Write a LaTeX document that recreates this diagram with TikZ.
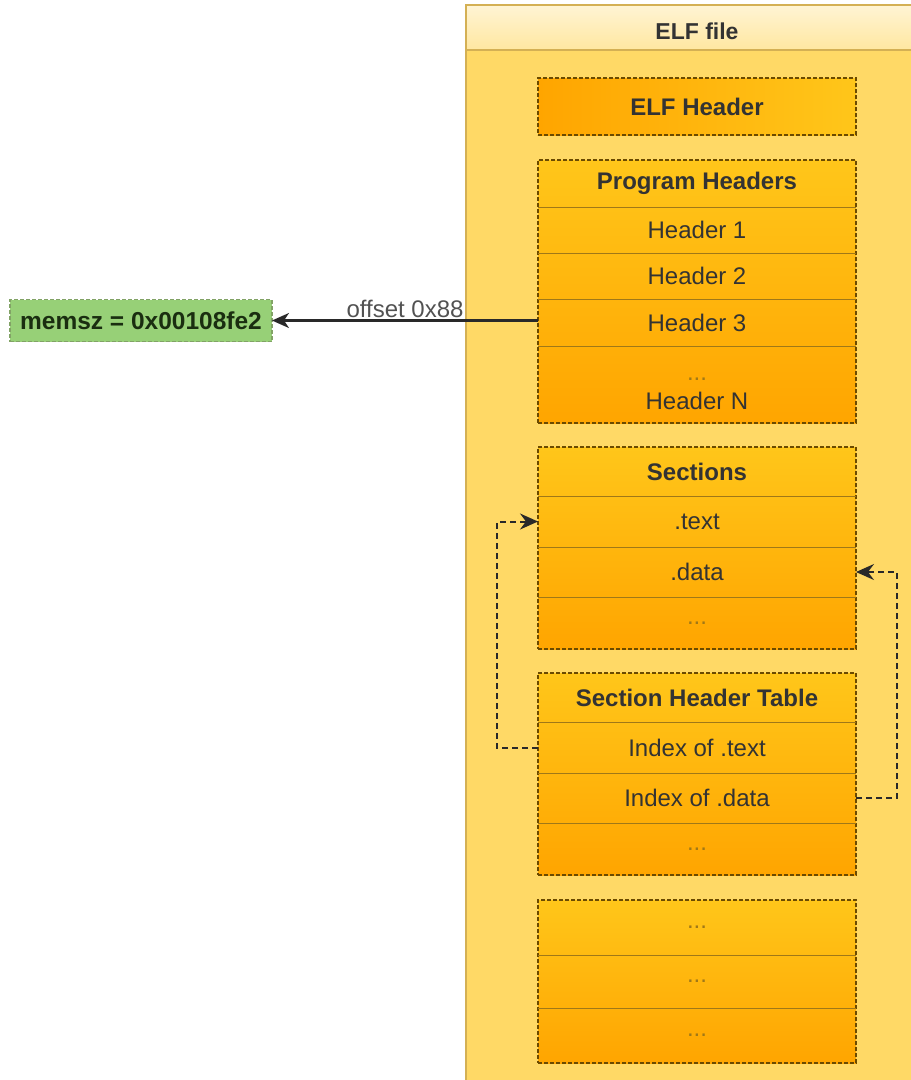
\documentclass[tikz,border=0pt]{standalone}
\usepackage{fontspec}
\setmainfont{Liberation Sans}
\usetikzlibrary{positioning, fit, backgrounds, arrows.meta}
\definecolor{elfback}{HTML}{FFD966}
\definecolor{elftitle}{HTML}{FFE7A0}
\definecolor{elfline}{HTML}{D4B054}
\definecolor{rowtop}{HTML}{FFC61A}
\definecolor{rowbot}{HTML}{FFA500}
\definecolor{rowline}{HTML}{A07818}
\definecolor{grpline}{HTML}{6B4A00}
\definecolor{memfill}{HTML}{97D077}
\definecolor{memline}{HTML}{82A366}
\definecolor{memtext}{HTML}{1A2E10}
\definecolor{txt}{HTML}{333333}

\begin{document}
\begin{tikzpicture}[x=1pt, y=-1pt,
    font=\fontsize{24}{27}\selectfont,
    row/.style={rectangle, minimum width=318pt, inner sep=0pt, outer sep=0pt, align=center, text=txt},
    rowtitle/.style={row, font=\fontsize{24}{27}\selectfont\bfseries},
    dots/.style={row, text=rowline},
    group/.style={rectangle, draw=grpline, dash pattern=on 4pt off 2pt, line width=1.8pt, inner sep=0pt, top color=rowtop, bottom color=rowbot},
    sep/.style={draw=rowline, line width=1pt},
    valbox/.style={rectangle, minimum width=262pt, minimum height=42pt, inner sep=0pt, outer sep=0pt, fill=memfill, draw=memline, dash pattern=on 4pt off 2pt, line width=1.4pt, text=memtext, font=\fontsize{24.5}{27}\selectfont\bfseries},
    arrow/.style={-{Stealth[length=17pt, width=15pt, inset=5pt]}, line width=2.2pt, draw=txt!80!black},
    dlink/.style={-{Stealth[length=18pt, width=16pt, inset=6pt]}, line width=2pt, draw=txt!80!black, dash pattern=on 6pt off 4pt}
]
    \useasboundingbox (0,0) rectangle (911,1080);

    % ELF file container
    \begin{pgfonlayer}{background}
        \fill[elfback] (466,5) rectangle (930,1090);
        \shade[top color=elftitle!45!white, bottom color=elftitle] (466,5) rectangle (930,50);
        \draw[elfline, line width=1.2pt] (930,5) -- (466,5) -- (466,1090);
        \draw[elfline, line width=1.2pt] (466,50) -- (930,50);
    \end{pgfonlayer}
    \node[rowtitle, font=\fontsize{23}{27}\selectfont\bfseries] (title) at (697,31) {ELF file};

    % ELF header
    \node[rowtitle, minimum height=57pt, left color=rowbot, right color=rowtop, draw=grpline, dash pattern=on 4pt off 2pt, line width=1.8pt] (elfhdr) at (697,106.5) {ELF Header};

    % Program headers
    \node[rowtitle, minimum height=47pt, below=25pt of elfhdr] (ph0) {Program Headers};
    \node[row, minimum height=46pt, below=0pt of ph0] (ph1) {Header 1};
    \node[row, minimum height=46pt, below=0pt of ph1] (ph2) {Header 2};
    \node[row, minimum height=47pt, below=0pt of ph2] (ph3) {Header 3};
    \node[row, minimum height=77pt, below=0pt of ph3] (phn) {\rule{0pt}{22pt}\textcolor{rowline}{...}\\[2pt]Header N};

    % Sections
    \node[rowtitle, minimum height=49pt, below=24pt of phn] (sec0) {Sections};
    \node[row, minimum height=51pt, below=0pt of sec0] (sec1) {.text};
    \node[row, minimum height=50pt, below=0pt of sec1] (sec2) {.data};
    \node[dots, minimum height=52pt, below=0pt of sec2] (sec3) {...};

    % Section header table
    \node[rowtitle, minimum height=49pt, below=24pt of sec3] (sht0) {Section Header Table};
    \node[row, minimum height=51pt, below=0pt of sht0] (sht1) {Index of .text};
    \node[row, minimum height=50pt, below=0pt of sht1] (sht2) {Index of .data};
    \node[dots, minimum height=52pt, below=0pt of sht2] (sht3) {...};

    % Remaining parts
    \node[dots, minimum height=55pt, below=25pt of sht3] (more1) {...};
    \node[dots, minimum height=53pt, below=0pt of more1] (more2) {...};
    \node[dots, minimum height=55pt, below=0pt of more2] (more3) {...};

    % Row separators
    \foreach \r in {ph1, ph2, ph3, phn, sec1, sec2, sec3, sht1, sht2, sht3, more2, more3}
        \draw[sep] (\r.north west) -- (\r.north east);

    % Group frames
    \begin{pgfonlayer}{background}
        \foreach \g/\f/\l in {ph/ph0/phn, sec/sec0/sec3, sht/sht0/sht3, more/more1/more3}
            \node[group, fit=(\f) (\l)] (\g) {};
    \end{pgfonlayer}

    % Value read from header 3
    \node[valbox, left=266pt of ph3, yshift=2pt] (memsz) {memsz = 0x00108fe2};
    \draw[arrow] (ph3.west |- memsz.east) -- node[above, inner sep=2pt, text=txt!85!white] {offset 0x88} (memsz.east);

    % Section indices
    \draw[dlink] (sht1.west) -- ++(-41,0) |- (sec1.west);
    \draw[dlink] (sht2.east) -- ++(41,0) |- (sec2.east);

\end{tikzpicture}
\end{document}
